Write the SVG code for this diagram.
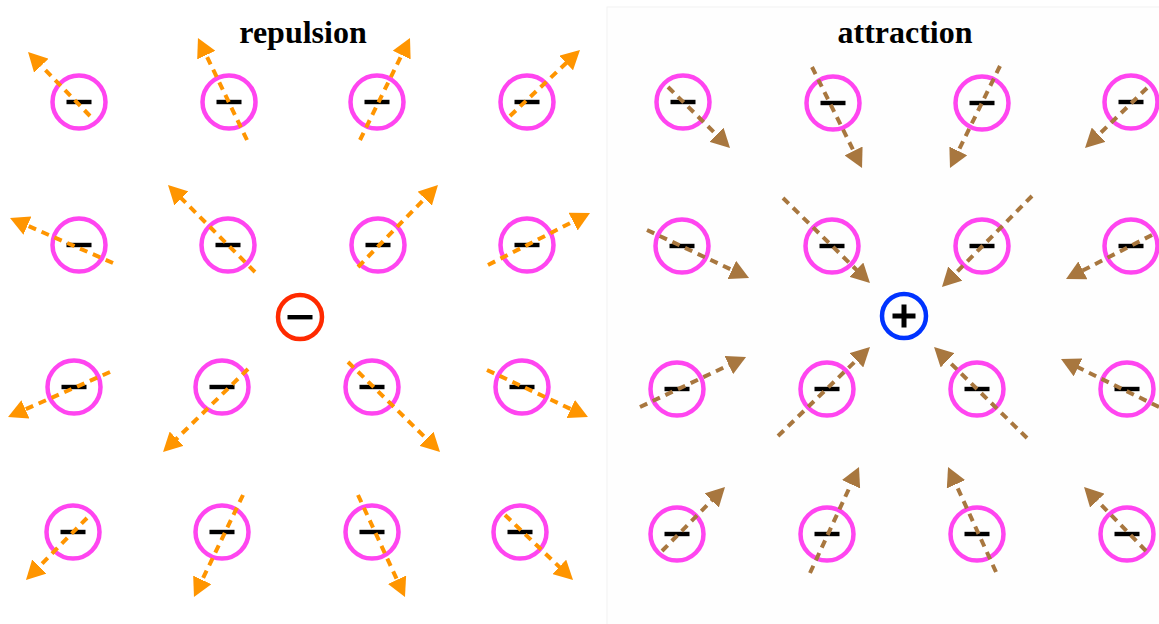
<svg xmlns="http://www.w3.org/2000/svg" width="1159" height="624" viewBox="0 0 1159 624">
<style>
.ion{fill:none;stroke:#ff45f0;stroke-width:4.5}
.bar{fill:#000}
.rep{fill:none;stroke:#ff9500;stroke-width:4;stroke-dasharray:8 6;marker-end:url(#hO)}
.att{fill:none;stroke:#a8773f;stroke-width:4;stroke-dasharray:8 6;marker-end:url(#hB)}
.title{font-family:"Liberation Serif","Times New Roman",serif;font-weight:bold;font-size:32px;fill:#000;text-anchor:middle}
</style>
<defs>
<marker id="hO" viewBox="-9 -10 20 20" markerWidth="20" markerHeight="20" refX="0" refY="0" orient="auto" markerUnits="userSpaceOnUse"><path d="M-9,-10 L10,0 L-9,10 z" fill="#ff9500"/></marker>
<marker id="hB" viewBox="-9 -10 20 20" markerWidth="20" markerHeight="20" refX="0" refY="0" orient="auto" markerUnits="userSpaceOnUse"><path d="M-9,-10 L10,0 L-9,10 z" fill="#a8773f"/></marker>
<g id="ionL"><circle class="ion" cx="0" cy="0" r="26.5"/><rect class="bar" x="-12.5" y="-2.2" width="25" height="4.4"/></g>
</defs>
<rect x="0" y="0" width="1159" height="624" fill="#fff"/>
<rect x="607" y="7" width="560" height="630" fill="#fefefe" stroke="#f2f2f2" stroke-width="1"/>
<text class="title" x="303" y="43">repulsion</text>
<text class="title" x="905" y="43">attraction</text>

<g id="ions-left">
<use href="#ionL" x="79" y="102"/><use href="#ionL" x="229" y="102"/><use href="#ionL" x="377" y="102"/><use href="#ionL" x="527" y="102"/>
<use href="#ionL" x="79" y="245"/><use href="#ionL" x="228" y="245"/><use href="#ionL" x="378" y="245"/><use href="#ionL" x="527" y="245"/>
<use href="#ionL" x="74" y="387"/><use href="#ionL" x="222" y="387"/><use href="#ionL" x="372" y="387"/><use href="#ionL" x="522" y="387"/>
<use href="#ionL" x="73" y="532"/><use href="#ionL" x="222" y="532"/><use href="#ionL" x="372" y="532"/><use href="#ionL" x="520" y="532"/>
</g>
<g id="ions-right">
<use href="#ionL" x="683" y="102"/><use href="#ionL" x="833" y="103"/><use href="#ionL" x="982" y="103"/><use href="#ionL" x="1131" y="102"/>
<use href="#ionL" x="682" y="246"/><use href="#ionL" x="832" y="246"/><use href="#ionL" x="982" y="246"/><use href="#ionL" x="1131" y="246"/>
<use href="#ionL" x="677" y="389"/><use href="#ionL" x="827" y="389"/><use href="#ionL" x="977" y="389"/><use href="#ionL" x="1127" y="389"/>
<use href="#ionL" x="677" y="534"/><use href="#ionL" x="827" y="534"/><use href="#ionL" x="977" y="534"/><use href="#ionL" x="1127" y="534"/>
</g>

<g id="center-minus">
<circle cx="300" cy="317" r="22" fill="none" stroke="#ff2a00" stroke-width="4.5"/>
<rect x="287.5" y="315" width="25" height="4.4" fill="#000"/>
</g>
<g id="center-plus">
<circle cx="904" cy="316" r="22" fill="none" stroke="#0033ff" stroke-width="4.5"/>
<rect x="892.5" y="313.5" width="23" height="5" fill="#000"/>
<rect x="901.5" y="304.5" width="5" height="23" fill="#000"/>
</g>

<g id="connectors">
<path class="rep" d="M90,116 L35,59.2"/>
<path class="rep" d="M247,140 L202.3,47"/>
<path class="rep" d="M360,140 L405.6,47"/>
<path class="rep" d="M510,116 L572.7,56.9"/>
<path class="rep" d="M113,263 L19.2,222"/>
<path class="rep" d="M255,272 L175.1,192.1"/>
<path class="rep" d="M358,267 L431,192.2"/>
<path class="rep" d="M488,265 L581.1,217.5"/>
<path class="rep" d="M110,372 L17.2,413"/>
<path class="rep" d="M248,369 L170.2,445"/>
<path class="rep" d="M348,362 L432.9,445"/>
<path class="rep" d="M487,370 L578.9,412.8"/>
<path class="rep" d="M87,518 L33,572.9"/>
<path class="rep" d="M243,495 L198.3,588"/>
<path class="rep" d="M358,495 L400.8,587.9"/>
<path class="rep" d="M505,515 L565.8,573.1"/>

<path class="att" d="M668,87 L722.9,141"/>
<path class="att" d="M812,67 L857.6,159"/>
<path class="att" d="M1000,66 L954.4,159"/>
<path class="att" d="M1147,88 L1092.2,141"/>
<path class="att" d="M647,230 L740,273.7"/>
<path class="att" d="M783,198 L862.8,276"/>
<path class="att" d="M1032,196 L949,279.9"/>
<path class="att" d="M1152,235 L1074.9,274.5"/>
<path class="att" d="M640,407 L737,361.3"/>
<path class="att" d="M778,436 L862.8,354"/>
<path class="att" d="M1027,438 L941.2,354"/>
<path class="att" d="M1159,407 L1070,363.4"/>
<path class="att" d="M662,551 L718,494.1"/>
<path class="att" d="M810,573 L854.8,476.1"/>
<path class="att" d="M996,572 L952.2,476.1"/>
<path class="att" d="M1146,551 L1091,494.2"/>
</g>
</svg>
